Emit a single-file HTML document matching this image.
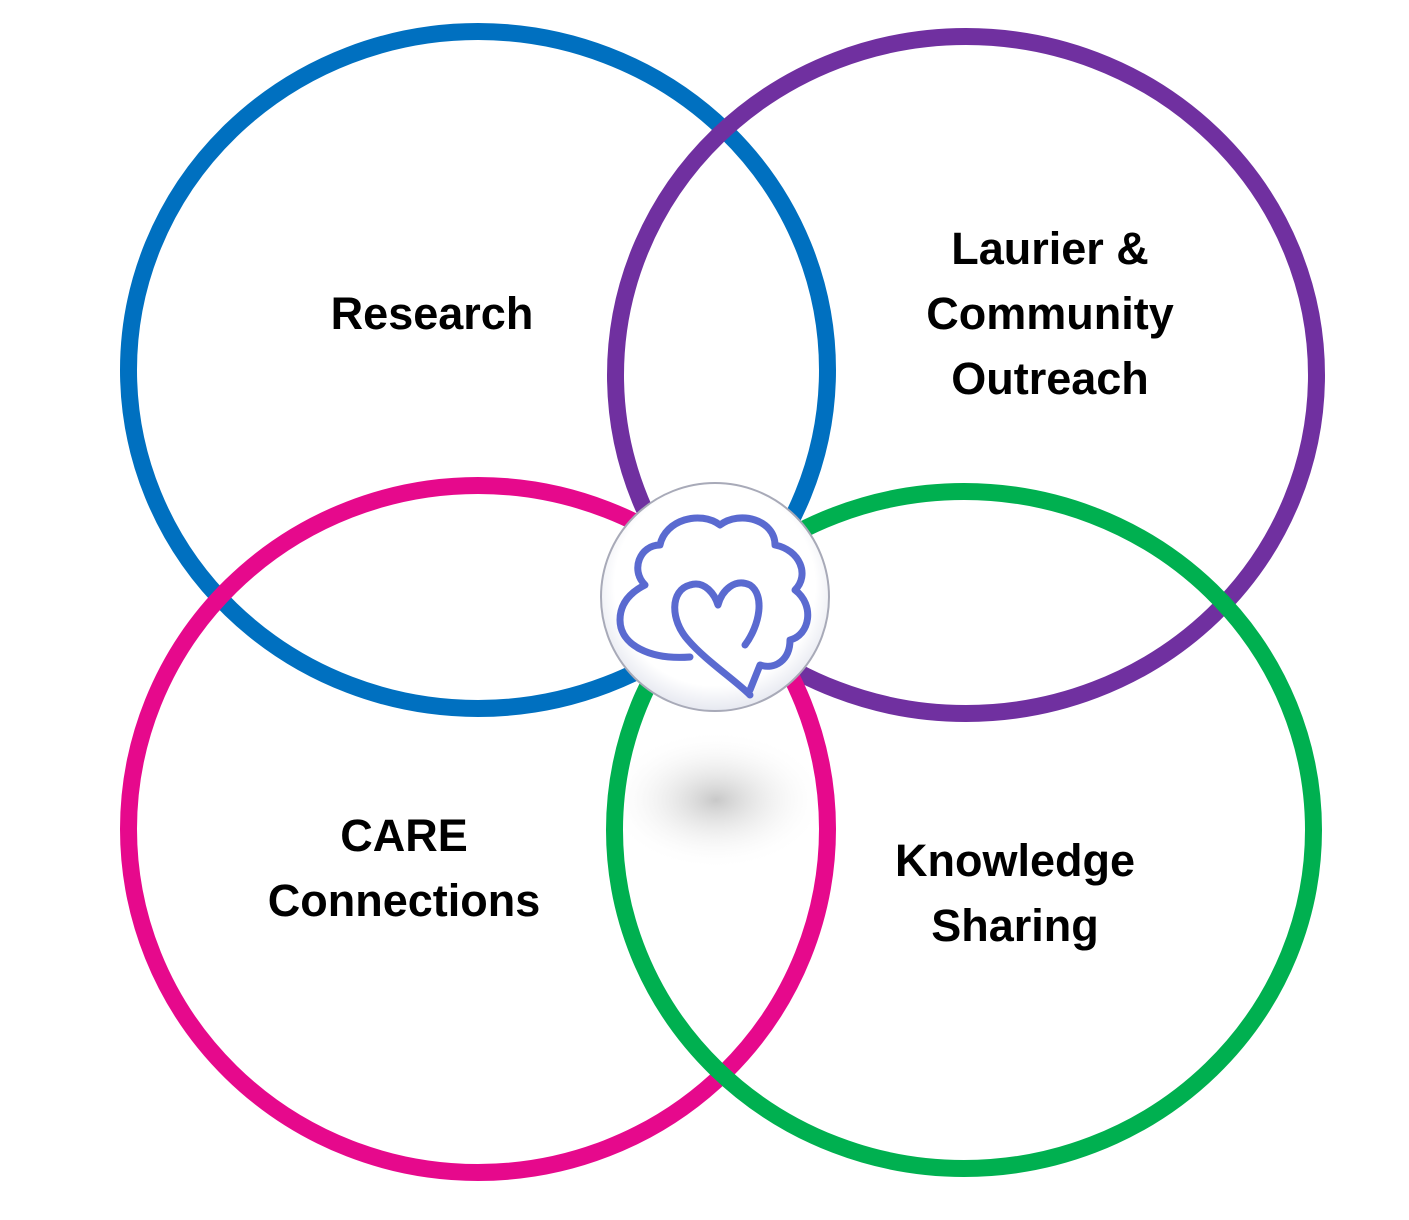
<!DOCTYPE html>
<html><head><meta charset="utf-8"><style>
html,body{margin:0;padding:0;background:#fff;}
svg{display:block}
text{font-family:"Liberation Sans",sans-serif;font-weight:bold;font-size:45px;fill:#000;text-anchor:middle}
</style></head><body>
<svg width="1409" height="1220" viewBox="0 0 1409 1220" xmlns="http://www.w3.org/2000/svg">
<defs>
<radialGradient id="sh" cx="50%" cy="50%" r="50%">
<stop offset="0" stop-color="#c8c8c8"/><stop offset="1" stop-color="#fff" stop-opacity="0"/>
</radialGradient>
<radialGradient id="lg" cx="50%" cy="45%" r="55%">
<stop offset="0.8" stop-color="#fff"/><stop offset="1" stop-color="#e6e8f0"/>
</radialGradient>
</defs>
<ellipse cx="716" cy="800" rx="110" ry="70" fill="url(#sh)"/>
<ellipse cx="478" cy="370" rx="349.5" ry="338.5" fill="none" stroke="#0070c0" stroke-width="17"/>
<ellipse cx="966" cy="375" rx="350.5" ry="338.5" fill="none" stroke="#7030a0" stroke-width="17"/>
<ellipse cx="478" cy="829" rx="349.5" ry="343.5" fill="none" stroke="#e6098c" stroke-width="17"/>
<ellipse cx="964" cy="830" rx="349.5" ry="338.5" fill="none" stroke="#00b050" stroke-width="17"/>
<circle cx="715" cy="597" r="114" fill="url(#lg)" stroke="#a8aab8" stroke-width="2"/>
<g fill="none" stroke="#5a6ad0" stroke-width="7" stroke-linecap="round" stroke-linejoin="round">
<path d="M690 657 C650 660 620 645 620 620 C620 600 635 590 645 585 C630 570 640 545 660 545 C665 520 700 510 720 525 C740 510 775 520 775 545 C800 550 810 575 795 590 C815 605 810 635 790 640 C790 660 775 670 760 665 L750 690"/>
<path d="M750 695 C735 680 705 660 688 640 C670 620 670 590 690 585 C705 580 715 595 718 605 C722 590 735 578 750 585 C765 595 760 625 745 645"/>
</g>
<text x="432" y="329">Research</text>
<text x="1050" y="264">Laurier &amp;</text>
<text x="1050" y="329">Community</text>
<text x="1050" y="394">Outreach</text>
<text x="404" y="851">CARE</text>
<text x="404" y="916">Connections</text>
<text x="1015" y="876">Knowledge</text>
<text x="1015" y="941">Sharing</text>
</svg>
</body></html>
